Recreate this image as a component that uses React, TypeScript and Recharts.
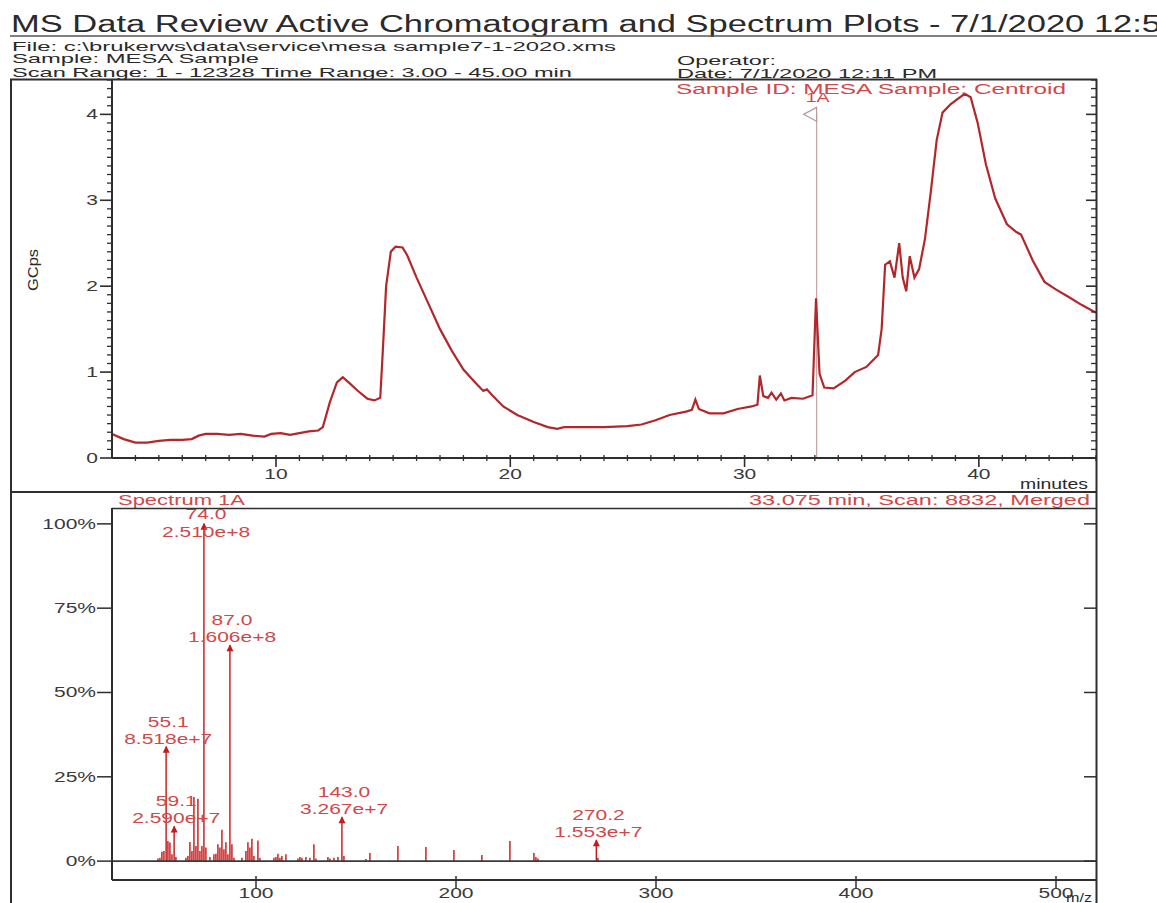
import React from 'react';
import { LineChart, Line, XAxis, YAxis, ReferenceLine, ReferenceDot, ComposedChart, Bar } from 'recharts';

// ---------- Chromatogram (top panel) ----------
const chromTimes = [
  3.0, 3.5, 4.0, 4.5, 5.0, 5.5, 6.0, 6.4, 6.7, 7.0,
  7.5, 8.0, 8.5, 9.0, 9.5, 9.8, 10.2, 10.6, 11.0, 11.4,
  11.8, 12.0, 12.3, 12.6, 12.85, 13.1, 13.5, 13.9, 14.2, 14.45,
  14.55, 14.7, 14.9, 15.1, 15.4, 15.6, 16.0, 16.5, 17.0, 17.5,
  18.0, 18.5, 18.85, 19.0, 19.2, 19.7, 20.3, 21.0, 21.6, 22.0,
  22.3, 23.0, 24.0, 25.0, 25.6, 26.2, 26.8, 27.5, 27.75, 27.9,
  28.05, 28.5, 29.1, 29.7, 30.3, 30.55, 30.65, 30.8, 31.0, 31.15,
  31.35, 31.55, 31.7, 32.0, 32.5, 32.9, 33.05, 33.2, 33.4, 33.8,
  34.3, 34.7, 35.2, 35.7, 35.85, 36.0, 36.2, 36.4, 36.6, 36.75,
  36.9, 37.05, 37.25, 37.45, 37.7, 37.95, 38.2, 38.45, 38.8, 39.1,
  39.4, 39.65, 39.95, 40.3, 40.7, 41.2, 41.6, 41.8, 42.3, 42.8,
  43.3, 43.8, 44.4, 45.0,
];
const chromGcps = [
  0.28, 0.22, 0.18, 0.18, 0.2, 0.21, 0.21, 0.22, 0.26, 0.28,
  0.28, 0.27, 0.28, 0.26, 0.25, 0.28, 0.29, 0.27, 0.29, 0.31,
  0.32, 0.36, 0.65, 0.88, 0.94, 0.88, 0.78, 0.69, 0.67, 0.7,
  1.2, 2.0, 2.4, 2.46, 2.45, 2.36, 2.1, 1.8, 1.5, 1.25,
  1.03, 0.88, 0.78, 0.8, 0.74, 0.6, 0.5, 0.42, 0.36, 0.34,
  0.36, 0.36, 0.36, 0.37, 0.39, 0.44, 0.5, 0.54, 0.56, 0.68,
  0.57, 0.52, 0.52, 0.57, 0.6, 0.62, 0.96, 0.72, 0.7, 0.76,
  0.68, 0.75, 0.67, 0.7, 0.69, 0.73, 1.86, 0.98, 0.82, 0.81,
  0.9, 1.0, 1.06, 1.2, 1.5, 2.25, 2.29, 2.1, 2.5, 2.1,
  1.94, 2.35, 2.1, 2.2, 2.55, 3.1, 3.7, 4.02, 4.12, 4.18,
  4.24, 4.2, 3.9, 3.42, 3.02, 2.72, 2.63, 2.6, 2.3, 2.05,
  1.96, 1.88, 1.78, 1.69,
];
const timeMajorTicks = [10, 20, 30, 40];
const timeAllTicks = Array.from({ length: 42 }, (_, i) => 4 + i);
const gcpsAllTicks = Array.from({ length: 45 }, (_, i) => i / 10);
const markerTime = 33.075;
const markerLabel = '1A';

// ---------- Spectrum (bottom panel) ----------
const specMz = [
  51, 52, 53, 54, 55.1, 56, 57, 58, 59.1, 60,
  65, 66, 67, 68, 69, 70, 71, 72, 73, 74,
  75, 77, 79, 80, 81, 82, 83, 84, 85, 86,
  87, 88, 89, 93, 95, 96, 97, 98, 99, 101,
  102, 109, 110, 111, 112, 113, 115, 121, 122, 123,
  125, 127, 129, 130, 136, 137, 139, 141, 143, 144,
  155, 157, 171, 185, 199, 213, 227, 239, 240, 241,
  270.2, 271,
];
const specPct = [
  0.8, 1.0, 2.8, 3.0, 33.9, 6.0, 5.5, 2.0, 10.3, 1.2,
  1.0, 1.5, 5.7, 3.0, 19.0, 4.5, 18.5, 3.0, 4.5, 100,
  4.0, 1.2, 2.0, 2.2, 5.0, 4.0, 9.3, 3.5, 5.6, 2.0,
  64.0, 5.0, 1.0, 1.0, 3.0, 5.6, 4.0, 6.6, 1.5, 6.1,
  1.0, 1.0, 1.2, 2.2, 1.0, 1.5, 2.0, 0.8, 1.2, 1.0,
  1.2, 1.0, 5.0, 0.8, 1.2, 0.8, 1.0, 1.2, 13.0, 1.5,
  0.6, 2.4, 4.5, 4.2, 3.3, 1.8, 6.0, 2.4, 1.2, 0.8,
  6.2, 1.0,
];
const labelMz = [74.0, 87.0, 55.1, 59.1, 143.0, 270.2];
const labelPct = [100, 64.0, 33.9, 10.3, 13.0, 6.2];
const labelMzText = ['74.0', '87.0', '55.1', '59.1', '143.0', '270.2'];
const labelIntensity = ['2.510e+8', '1.606e+8', '8.518e+7', '2.590e+7', '3.267e+7', '1.553e+7'];
const mzTicks = [100, 200, 300, 400, 500];
const pctTicks = [0, 25, 50, 75, 100];

const chromData = chromTimes.map((t, i) => ({ t, v: chromGcps[i] }));
const specData = specMz.map((mz, i) => ({ mz, pct: specPct[i] }));

const FONT = '"Liberation Sans", Arial, Helvetica, sans-serif';
const SX = 1.5;
const AXIS = '#2e2e2e';
const TICK_TEXT = '#3a3a3a';
const RED_TEXT = '#d04848';
const TRACE = '#b3262a';
const PEAK = '#c81818';

const isMajorGcps = (v: number) => Math.abs(v - Math.round(v)) < 1e-6;

function TopXTick(props: any) {
  const { x, y, payload } = props;
  const v = payload.value;
  const major = timeMajorTicks.includes(v);
  return (
    <g>
      <line x1={x} x2={x} y1={y - 3} y2={y + (major ? 9 : 3)} stroke={AXIS} strokeWidth={major ? 1.6 : 1.3} />
      {major && (
        <text transform={`translate(${x},${y + 21}) scale(${SX},1)`} textAnchor="middle" fontSize={14} fontFamily={FONT} fill={TICK_TEXT}>
          {v}
        </text>
      )}
    </g>
  );
}

function TopLeftTick(props: any) {
  const { x, y, payload } = props;
  const v = payload.value;
  const major = isMajorGcps(v);
  return (
    <g>
      <line x1={x - (major ? 12 : 5)} x2={x} y1={y} y2={y} stroke={AXIS} strokeWidth={major ? 1.6 : 1.3} />
      {major && (
        <text transform={`translate(${x - 14},${y + 5}) scale(${SX},1)`} textAnchor="end" fontSize={14} fontFamily={FONT} fill={TICK_TEXT}>
          {Math.round(v)}
        </text>
      )}
    </g>
  );
}

function TopRightTick(props: any) {
  const { x, y, payload } = props;
  const major = isMajorGcps(payload.value);
  return <line x1={x - (major ? 10 : 5)} x2={x} y1={y} y2={y} stroke={AXIS} strokeWidth={major ? 1.6 : 1.3} />;
}

function BottomXTick(props: any) {
  const { x, y, payload } = props;
  return (
    <g>
      <line x1={x} x2={x} y1={y - 4} y2={y + 9} stroke={AXIS} strokeWidth={1.5} />
      <text transform={`translate(${x},${y + 18}) scale(${SX},1)`} textAnchor="middle" fontSize={14} fontFamily={FONT} fill={TICK_TEXT}>
        {payload.value}
      </text>
    </g>
  );
}

function BottomLeftTick(props: any) {
  const { x, y, payload } = props;
  return (
    <g>
      <line x1={x - 15} x2={x} y1={y} y2={y} stroke={AXIS} strokeWidth={1.5} />
      <text transform={`translate(${x - 16},${y + 5}) scale(${SX},1)`} textAnchor="end" fontSize={14} fontFamily={FONT} fill={TICK_TEXT}>
        {payload.value + '%'}
      </text>
    </g>
  );
}

function BottomRightTick(props: any) {
  const { x, y } = props;
  return <line x1={x - 12} x2={x} y1={y} y2={y} stroke={AXIS} strokeWidth={1.5} />;
}

function MarkerShape(props: any) {
  const { cx, cy } = props;
  return (
    <g>
      <polygon points={`${cx - 13},${cy} ${cx},${cy - 7} ${cx},${cy + 7}`} fill="#fff" stroke="#b89a9a" strokeWidth={1.2} />
      <text transform={`translate(${cx + 1},${cy - 12}) scale(${SX},1)`} textAnchor="middle" fontSize={13} fontFamily={FONT} fill={RED_TEXT}>
        {markerLabel}
      </text>
    </g>
  );
}

function PeakLabel(props: any) {
  const { cx, cy, pct, mzText, intText } = props;
  const top = pct > 90;
  const y1 = top ? cy - 5 : cy - 20;
  const y2 = top ? cy + 13 : cy - 3;
  return (
    <g>
      <polygon points={`${cx},${cy - 1} ${cx - 3.5},${cy + 6} ${cx + 3.5},${cy + 6}`} fill={PEAK} />
      <text transform={`translate(${cx + 2},${y1}) scale(${SX},1)`} textAnchor="middle" fontSize={14} fontFamily={FONT} fill={RED_TEXT}>
        {mzText}
      </text>
      <text transform={`translate(${cx + 2},${y2}) scale(${SX},1)`} textAnchor="middle" fontSize={14} fontFamily={FONT} fill={RED_TEXT}>
        {intText}
      </text>
    </g>
  );
}

function HeaderText(p: { x: number; y: number; size: number; len: number; color?: string; children: string; anchor?: string }) {
  return (
    <text
      x={p.x}
      y={p.y}
      fontSize={p.size}
      fontFamily={FONT}
      fill={p.color || '#2a2a2a'}
      textLength={p.len}
      lengthAdjust="spacingAndGlyphs"
      textAnchor={(p.anchor as any) || 'start'}
    >
      {p.children}
    </text>
  );
}

export default function App() {
  return (
    <div style={{ position: 'absolute', left: 0, top: 0, width: 1157, height: 903, overflow: 'hidden', background: '#fff', fontFamily: FONT }}>
      {/* Top: chromatogram */}
      <div style={{ position: 'absolute', left: 10, top: 78 }}>
        <LineChart width={1087} height={414} data={chromData} margin={{ top: 2, right: 0, bottom: 33, left: 101 }}>
          <XAxis
            dataKey="t"
            type="number"
            domain={[3, 45]}
            allowDataOverflow
            ticks={timeAllTicks}
            interval={0}
            height={1}
            tickSize={0}
            tickMargin={0}
            tickLine={false}
            axisLine={{ stroke: AXIS, strokeWidth: 2 }}
            tick={(p: any) => <TopXTick {...p} />}
          />
          <YAxis
            type="number"
            domain={[0, 4.4]}
            allowDataOverflow
            ticks={gcpsAllTicks}
            interval={0}
            width={1}
            tickSize={0}
            tickMargin={0}
            tickLine={false}
            axisLine={{ stroke: AXIS, strokeWidth: 2 }}
            tick={(p: any) => <TopLeftTick {...p} />}
          />
          <YAxis
            yAxisId="right"
            orientation="right"
            type="number"
            domain={[0, 4.4]}
            allowDataOverflow
            ticks={gcpsAllTicks}
            interval={0}
            width={1}
            tickSize={0}
            tickMargin={0}
            tickLine={false}
            axisLine={false}
            tick={(p: any) => <TopRightTick {...p} />}
          />
          <ReferenceLine
            segment={[{ x: markerTime, y: 0 }, { x: markerTime, y: 4.0 }]}
            stroke="#c9a6a6"
            strokeWidth={1.3}
          />
          <Line type="linear" dataKey="v" stroke={TRACE} strokeWidth={2.2} dot={false} isAnimationActive={false} />
          <ReferenceDot x={markerTime} y={4.0} r={1} shape={(p: any) => <MarkerShape {...p} />} />
        </LineChart>
      </div>

      {/* Bottom: spectrum */}
      <div style={{ position: 'absolute', left: 10, top: 492 }}>
        <ComposedChart width={1087} height={411} data={specData} margin={{ top: 16, right: 0, bottom: 22, left: 101 }}>
          <XAxis
            dataKey="mz"
            type="number"
            domain={[28, 520]}
            allowDataOverflow
            ticks={mzTicks}
            interval={0}
            height={1}
            tickSize={0}
            tickMargin={0}
            tickLine={false}
            axisLine={{ stroke: AXIS, strokeWidth: 2 }}
            tick={(p: any) => <BottomXTick {...p} />}
          />
          <YAxis
            type="number"
            domain={[-5.6, 104.7]}
            allowDataOverflow
            ticks={pctTicks}
            interval={0}
            width={1}
            tickSize={0}
            tickMargin={0}
            tickLine={false}
            axisLine={{ stroke: AXIS, strokeWidth: 2 }}
            tick={(p: any) => <BottomLeftTick {...p} />}
          />
          <YAxis
            yAxisId="right"
            orientation="right"
            type="number"
            domain={[-5.6, 104.7]}
            allowDataOverflow
            ticks={pctTicks}
            interval={0}
            width={1}
            tickSize={0}
            tickMargin={0}
            tickLine={false}
            axisLine={false}
            tick={(p: any) => <BottomRightTick {...p} />}
          />
          <ReferenceLine y={0} stroke="#3a3a3a" strokeWidth={1.6} />
          <Bar dataKey="pct" fill={PEAK} barSize={2} isAnimationActive={false} />
          {labelMz.map((mz, i) => (
            <ReferenceDot
              key={'lbl' + i}
              x={mz}
              y={labelPct[i]}
              r={1}
              shape={(p: any) => (
                <PeakLabel cx={p.cx} cy={p.cy} pct={labelPct[i]} mzText={labelMzText[i]} intText={labelIntensity[i]} />
              )}
            />
          ))}
        </ComposedChart>
      </div>

      {/* Header texts and frame */}
      <svg width={1157} height={903} style={{ position: 'absolute', left: 0, top: 0, pointerEvents: 'none' }}>
        <HeaderText x={11} y={32} size={23} len={1150}>MS Data Review Active Chromatogram and Spectrum Plots - 7/1/2020 12:5</HeaderText>
        <line x1={10} x2={1157} y1={36} y2={36} stroke="#555" strokeWidth={1.5} />
        <HeaderText x={12} y={51} size={13} len={604}>{'File: c:\\brukerws\\data\\service\\mesa  sample7-1-2020.xms'}</HeaderText>
        <HeaderText x={12} y={63} size={13} len={247}>Sample: MESA  Sample</HeaderText>
        <HeaderText x={12} y={77} size={13} len={560}>Scan Range: 1 - 12328 Time Range: 3.00 - 45.00 min</HeaderText>
        <HeaderText x={677} y={65} size={13} len={99}>Operator:</HeaderText>
        <HeaderText x={677} y={78} size={13} len={260}>Date: 7/1/2020 12:11 PM</HeaderText>
        <HeaderText x={676} y={94} size={14} len={390} color={RED_TEXT}>Sample ID: MESA  Sample:  Centroid</HeaderText>
        <HeaderText x={1020} y={489} size={14} len={68}>minutes</HeaderText>
        <HeaderText x={118} y={505} size={14} len={127} color={RED_TEXT}>Spectrum 1A</HeaderText>
        <HeaderText x={749} y={505} size={14} len={341} color={RED_TEXT}>33.075 min, Scan: 8832, Merged</HeaderText>
        <HeaderText x={1066} y={902} size={12} len={26}>m/z</HeaderText>
        <text transform="translate(38,270) rotate(-90)" fontSize={14} fontFamily={FONT} fill="#2a2a2a" textAnchor="middle" textLength={42} lengthAdjust="spacingAndGlyphs">
          GCps
        </text>
        {/* frame */}
        <line x1={10} x2={1097} y1={79.5} y2={79.5} stroke={AXIS} strokeWidth={2} />
        <line x1={11} x2={11} y1={79} y2={903} stroke={AXIS} strokeWidth={2} />
        <line x1={1096.5} x2={1096.5} y1={79} y2={903} stroke={AXIS} strokeWidth={2} />
        <line x1={10} x2={1097} y1={492} y2={492} stroke={AXIS} strokeWidth={2} />
        <line x1={112} x2={1097} y1={508.5} y2={508.5} stroke={AXIS} strokeWidth={1.6} />
      </svg>
    </div>
  );
}
